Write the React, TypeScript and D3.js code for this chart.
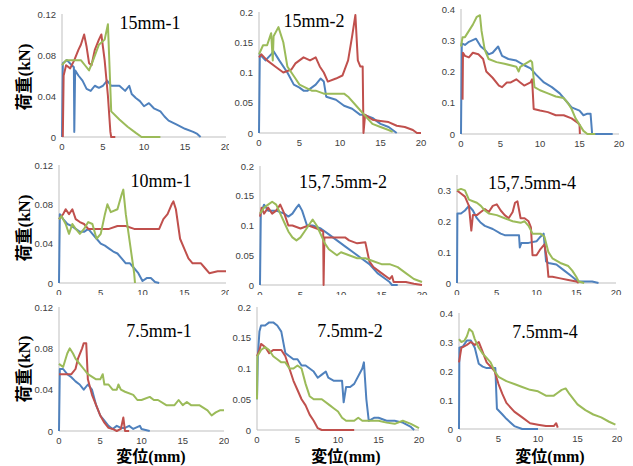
import * as d3 from "d3";

// colours of the three specimens (Excel 2007 palette)
const BLUE = "#4F81BD";
const RED = "#C0504D";
const GREEN = "#9BBB59";

type Pt = [number, number];

// ---- 15mm-1 ----
const p1Blue: Pt[] = [[0,0],[0.1,0.072],[0.6,0.075],[1.2,0.07],[1.45,0.068],[1.5,0.005],[1.6,0.065],[2,0.06],[2.5,0.055],[3,0.047],[3.5,0.045],[4,0.05],[4.5,0.048],[5,0.05],[5.5,0.055],[6,0.05],[7,0.05],[7.7,0.045],[8.2,0.05],[8.5,0.042],[9,0.038],[9.5,0.035],[10,0.03],[10.6,0.033],[11.2,0.028],[12,0.025],[12.5,0.02],[13,0.016],[14,0.012],[15,0.008],[16,0.005],[16.5,0.003],[16.9,0]];
const p1Red: Pt[] = [[0.1,0],[0.2,0.06],[0.5,0.07],[1,0.067],[1.5,0.075],[2,0.085],[2.3,0.09],[2.7,0.1],[3,0.088],[3.3,0.072],[3.6,0.07],[4,0.085],[4.5,0.095],[4.8,0.1],[5.2,0.075],[5.6,0.04],[5.9,0.005],[6,0],[6.5,0]];
const p1Green: Pt[] = [[0,0.07],[0.5,0.075],[1.5,0.075],[2.3,0.075],[2.8,0.07],[3.3,0.065],[3.8,0.075],[4.5,0.09],[5.2,0.095],[5.6,0.11],[6,0.025],[7,0.017],[8,0.01],[9,0.004],[9.7,0],[12,0]];

// ---- 15mm-2 ----
const p2Blue: Pt[] = [[0,0],[0.1,0.13],[0.8,0.12],[1.5,0.13],[1.8,0.135],[2.5,0.12],[3.5,0.1],[4.3,0.08],[5,0.075],[5.5,0.07],[6,0.07],[7,0.08],[7.6,0.09],[8,0.085],[8.3,0.06],[9.5,0.055],[10.5,0.045],[11.5,0.04],[12.5,0.03],[13,0.03],[14,0.025],[15,0.015],[16,0.01],[17,0]];
const p2Red: Pt[] = [[0,0.125],[0.3,0.13],[1,0.12],[2,0.11],[3,0.1],[4,0.105],[4.5,0.115],[5.5,0.125],[6.3,0.12],[7,0.125],[7.5,0.11],[8,0.1],[8.5,0.085],[9.5,0.09],[10.3,0.095],[11,0.12],[11.5,0.16],[11.9,0.195],[12.2,0.12],[12.5,0.11],[12.8,0.11],[12.9,0],[13.1,0.03],[14,0.022],[15,0.02],[16,0.018],[17,0.012],[18,0.01],[19,0.005],[19.5,0],[20,0]];
const p2Green: Pt[] = [[0,0.13],[0.5,0.145],[1,0.145],[1.5,0.165],[1.7,0.12],[1.8,0.16],[2.2,0.17],[2.4,0.175],[3,0.15],[3.5,0.11],[4.5,0.09],[5,0.08],[6.5,0.07],[7,0.07],[8,0.065],[10.5,0.065],[11,0.06],[12,0.045],[13,0.03],[14,0.015],[15,0.01],[16,0.005],[16.5,0.002]];

// ---- (top right, untitled) ----
const p3Blue: Pt[] = [[0,0],[0.1,0.29],[0.5,0.285],[1,0.295],[1.9,0.305],[2.5,0.28],[3,0.27],[3.5,0.255],[4,0.26],[4.7,0.28],[5.2,0.25],[6,0.24],[7,0.235],[8,0.22],[8.8,0.21],[9.5,0.19],[10.5,0.165],[11.5,0.15],[12.5,0.13],[13.5,0.1],[14,0.085],[15,0.075],[15.5,0.06],[16,0.065],[16.4,0.065],[16.6,0],[19.2,0]];
const p3Red: Pt[] = [[0.2,0.11],[0.25,0.26],[0.5,0.25],[1,0.245],[1.5,0.26],[2.2,0.255],[2.8,0.24],[3.2,0.2],[4,0.18],[4.8,0.155],[5.2,0.15],[5.8,0.165],[6.3,0.165],[7,0.175],[7.5,0.165],[8,0.155],[8.8,0.165],[9,0.175],[9.2,0.08],[10,0.075],[11,0.07],[12,0.06],[13,0.06],[14,0.05],[14.8,0.035],[15,0.03],[15.05,0]];
const p3Green: Pt[] = [[0,0.28],[0.2,0.31],[0.5,0.31],[1,0.33],[1.5,0.35],[2,0.375],[2.4,0.38],[2.6,0.33],[3,0.27],[3.5,0.24],[4.5,0.23],[5.5,0.225],[7,0.215],[7.3,0.2],[7.5,0.215],[8.8,0.235],[9,0.23],[9.3,0.15],[10,0.14],[11,0.13],[12,0.12],[13,0.115],[13.5,0.1],[14,0.08],[14.5,0.05],[15,0.03],[15.5,0.01],[16,0],[17,0]];

// ---- 10mm-1 ----
const p4Blue: Pt[] = [[0,0],[0.1,0.07],[0.5,0.065],[1,0.06],[1.5,0.058],[2,0.055],[2.5,0.052],[3,0.052],[3.5,0.055],[4,0.05],[4.5,0.045],[5,0.04],[5.5,0.038],[6,0.035],[6.5,0.032],[7,0.03],[7.5,0.025],[8,0.02],[8.5,0.02],[9,0.015],[9.5,0.01],[10,0.002],[10.5,0.005],[11,0.005],[11.5,0.001],[12,0]];
const p4Red: Pt[] = [[0,0.065],[0.5,0.07],[0.8,0.075],[1.2,0.07],[1.6,0.075],[2,0.065],[2.5,0.062],[3,0.06],[3.5,0.055],[4,0.055],[5,0.055],[6,0.055],[7,0.058],[8,0.058],[9,0.055],[10,0.055],[11,0.055],[12,0.055],[12.5,0.065],[13,0.07],[13.5,0.08],[13.7,0.083],[14,0.075],[14.5,0.045],[15,0.035],[15.5,0.025],[16,0.02],[17,0.02],[17.5,0.015],[18,0.01],[19,0.012],[20,0.012]];
const p4Green: Pt[] = [[0,0.065],[0.3,0.068],[0.8,0.06],[1.2,0.05],[1.6,0.06],[2,0.055],[2.5,0.05],[3,0.055],[3.5,0.062],[4,0.06],[4.5,0.045],[5,0.05],[5.5,0.07],[5.8,0.08],[6.2,0.072],[7,0.075],[7.5,0.09],[7.7,0.095],[8,0.07],[8.5,0.04],[9,0.01],[9.1,0]];

// ---- 15,7.5mm-2 ----
const p5Blue: Pt[] = [[0,0],[0.1,0.12],[0.5,0.135],[1,0.125],[2,0.125],[3,0.12],[3.5,0.115],[4,0.12],[4.5,0.13],[4.8,0.135],[5.2,0.125],[5.8,0.1],[6.5,0.1],[7.5,0.095],[8.5,0.085],[9.5,0.075],[10.5,0.065],[11.5,0.055],[12.5,0.045],[13.5,0.035],[14.5,0.02],[15.5,0.01],[16,0.005],[16.3,0],[17,0]];
const p5Red: Pt[] = [[0,0.115],[0.2,0.13],[0.5,0.12],[1,0.13],[1.5,0.12],[2,0.125],[2.5,0.135],[3,0.12],[3.5,0.1],[4,0.1],[5,0.095],[6,0.1],[7,0.095],[7.8,0.09],[7.85,0],[7.95,0.08],[8.5,0.08],[10.5,0.08],[11,0.075],[12,0.07],[13,0.072],[13.5,0.04],[14,0.03],[15,0.02],[16,0.01],[16.3,0.015],[16.5,0.005],[18,0.005],[19,0.002],[20,0]];
const p5Green: Pt[] = [[0,0.12],[0.5,0.13],[1,0.135],[1.5,0.14],[2,0.135],[2.5,0.12],[3,0.105],[3.5,0.09],[4,0.08],[4.5,0.075],[5,0.08],[5.5,0.09],[6,0.1],[6.5,0.11],[7,0.1],[7.5,0.085],[8,0.07],[8.5,0.06],[9.5,0.05],[10,0.055],[11,0.05],[12,0.045],[13,0.045],[14,0.04],[15,0.035],[16,0.035],[17,0.03],[18,0.02],[19,0.01],[20,0.005]];

// ---- 15,7.5mm-4 ----
const p6Blue: Pt[] = [[0,0],[0.05,0.225],[0.5,0.225],[1,0.235],[1.5,0.25],[2,0.235],[2.5,0.21],[3,0.195],[3.5,0.185],[4.5,0.175],[5.5,0.16],[6,0.155],[7,0.155],[7.8,0.155],[7.9,0.115],[8.1,0.13],[9,0.13],[10,0.135],[10.5,0.15],[10.9,0.16],[11.2,0.07],[11.5,0.065],[12.5,0.06],[13.5,0.04],[14.5,0.02],[15.2,0.005],[16,0.005],[17,0.005],[17.8,0]];
const p6Red: Pt[] = [[0,0.3],[0.5,0.29],[1,0.28],[1.5,0.25],[1.8,0.17],[2,0.22],[2.5,0.22],[3,0.23],[3.5,0.24],[4,0.23],[4.5,0.25],[5,0.255],[5.5,0.235],[6,0.22],[6.5,0.21],[7,0.23],[7.3,0.26],[7.6,0.265],[8,0.21],[8.5,0.21],[9,0.2],[9.3,0.18],[9.5,0.09],[10,0.09],[10.5,0.11],[11,0.125],[11.3,0.08],[11.5,0.02],[12,0.02],[13,0.015],[14,0.01],[15,0.005],[15.3,0]];
const p6Green: Pt[] = [[0,0.3],[0.5,0.305],[1,0.3],[1.5,0.27],[2,0.265],[2.5,0.26],[3,0.25],[3.5,0.235],[4,0.225],[5,0.22],[6,0.21],[7,0.2],[8,0.195],[8.5,0.2],[9,0.185],[9.5,0.16],[10.5,0.16],[11,0.15],[11.5,0.1],[12,0.08],[13,0.065],[14,0.055],[14.5,0.04],[15,0.02],[15.3,0.005],[16,0]];

// ---- 7.5mm-1 ----
const p7Blue: Pt[] = [[0,0],[0.1,0.06],[0.5,0.06],[1,0.055],[1.5,0.052],[2,0.048],[2.5,0.045],[3,0.04],[3.5,0.045],[4,0.04],[4.5,0.025],[5,0.015],[5.5,0.01],[6,0.005],[6.5,0.002],[7,0.005],[7.5,0.003],[8,0.003],[8.5,0.005],[9,0.002],[9.8,0.005],[10,0.002],[11,0]];
const p7Red: Pt[] = [[0,0.055],[0.5,0.055],[1,0.055],[1.5,0.055],[2,0.06],[2.3,0.07],[2.8,0.08],[3,0.085],[3.3,0.085],[3.5,0.05],[4,0.035],[4.5,0.025],[5,0.015],[5.5,0.008],[6,0.003],[6.5,0.002],[7,0],[7.5,0.002],[7.8,0.013],[8,0],[8.5,0]];
const p7Green: Pt[] = [[0,0.065],[0.5,0.062],[1,0.075],[1.3,0.08],[1.7,0.075],[2,0.07],[2.5,0.065],[3,0.06],[3.5,0.055],[4.5,0.05],[5,0.05],[5.3,0.055],[5.5,0.045],[6,0.045],[6.5,0.04],[7,0.04],[7.2,0.045],[7.5,0.04],[8,0.038],[9,0.035],[9.5,0.03],[10,0.03],[11,0.033],[11.5,0.03],[12,0.03],[13,0.025],[14,0.025],[14.5,0.03],[15,0.025],[15.5,0.028],[16,0.025],[17,0.025],[18,0.02],[18.5,0.015],[19,0.018],[19.5,0.02],[20,0.02]];

// ---- 7.5mm-2 ----
const p8Blue: Pt[] = [[0,0.05],[0.1,0.12],[0.3,0.16],[0.5,0.17],[1,0.17],[1.5,0.175],[2,0.175],[2.5,0.17],[3,0.16],[3.5,0.125],[4,0.12],[4.5,0.115],[5,0.115],[5.5,0.105],[6,0.105],[6.5,0.1],[7,0.095],[7.5,0.085],[8,0.09],[8.5,0.095],[8.8,0.085],[9.5,0.08],[10.5,0.08],[10.7,0.045],[11,0.07],[11.5,0.07],[12,0.075],[13,0.1],[13.2,0.11],[13.5,0.05],[13.8,0.015],[14.5,0.02],[15,0.02],[16,0.015],[17,0.015],[18,0.012],[19,0.005],[19.4,0]];
const p8Red: Pt[] = [[0,0.12],[0.3,0.13],[0.5,0.14],[1,0.135],[1.5,0.125],[2,0.13],[3,0.13],[3.5,0.12],[4,0.1],[4.5,0.08],[5,0.065],[5.5,0.05],[6,0.04],[6.5,0.025],[7,0.015],[7.5,0.003],[8,0],[10,0],[12,0]];
const p8Green: Pt[] = [[0,0.05],[0.05,0.12],[0.5,0.13],[1,0.135],[1.5,0.13],[2,0.12],[2.5,0.115],[3,0.11],[3.5,0.11],[4,0.1],[4.5,0.1],[5,0.105],[5.5,0.1],[6,0.075],[6.5,0.055],[7,0.05],[7.5,0.05],[8,0.05],[9,0.04],[9.5,0.035],[10,0.03],[10.5,0.02],[11,0.015],[12,0.015],[12.5,0.02],[13,0.015],[14,0.015],[15,0.015],[16,0.012],[17,0.01],[18,0.015],[19,0.01],[20,0.003]];

// ---- 7.5mm-4 ----
const p9Blue: Pt[] = [[0,0],[0.05,0.28],[0.5,0.285],[1,0.305],[1.5,0.305],[2,0.28],[2.5,0.225],[3,0.215],[3.5,0.21],[4,0.21],[4.6,0.21],[4.8,0.07],[5.5,0.05],[6,0.035],[7,0.01],[8,0],[10,0]];
const p9Red: Pt[] = [[0,0.23],[0.3,0.28],[1,0.29],[1.5,0.3],[2,0.29],[2.5,0.3],[2.8,0.28],[3.5,0.23],[4,0.215],[4.5,0.2],[5,0.155],[5.5,0.12],[6,0.09],[7,0.06],[8,0.04],[9,0.02],[10,0.015],[11,0.01],[12,0.01],[12.3,0.02],[12.5,0.005]];
const p9Green: Pt[] = [[0,0.31],[0.3,0.3],[0.7,0.305],[1,0.32],[1.3,0.345],[1.7,0.335],[2,0.31],[2.5,0.28],[3,0.26],[3.5,0.245],[4,0.23],[4.5,0.2],[5,0.18],[6,0.165],[7,0.155],[8,0.145],[9,0.135],[10,0.13],[11,0.115],[12,0.115],[12.5,0.125],[13,0.135],[13.5,0.14],[14,0.12],[15,0.085],[16,0.065],[17,0.05],[18,0.04],[19,0.025],[19.8,0.015]];

// panel titles and axes
const titles = ["15mm-1", "15mm-2", "", "10mm-1", "15,7.5mm-2", "15,7.5mm-4", "7.5mm-1", "7.5mm-2", "7.5mm-4"];
const yMaxes = [0.12, 0.2, 0.4, 0.12, 0.2, 0.35, 0.12, 0.2, 0.4];
const yTickSets = [
  [0, 0.04, 0.08, 0.12], [0, 0.05, 0.1, 0.15, 0.2], [0, 0.1, 0.2, 0.3, 0.4],
  [0, 0.04, 0.08, 0.12], [0, 0.05, 0.1, 0.15, 0.2], [0, 0.1, 0.2, 0.3],
  [0, 0.04, 0.08, 0.12], [0, 0.05, 0.1, 0.15, 0.2], [0, 0.1, 0.2, 0.3, 0.4],
];
const xTicks = [0, 5, 10, 15, 20];
const yLabel = "荷重(kN)";
const xLabel = "変位(mm)";

const panelSeries: Pt[][][] = [
  [p1Blue, p1Red, p1Green], [p2Blue, p2Red, p2Green], [p3Blue, p3Red, p3Green],
  [p4Blue, p4Red, p4Green], [p5Blue, p5Red, p5Green], [p6Blue, p6Red, p6Green],
  [p7Blue, p7Red, p7Green], [p8Blue, p8Red, p8Green], [p9Blue, p9Red, p9Green],
];
const seriesColors = [BLUE, RED, GREEN];

// pixel layout of each small chart: plot left/right (x=0..20), top/bottom (y max..0), title spot
const layout = [
  { l: 62, r: 226, t: 14, b: 137, tx: 150, ty: 29, clip: 0 },
  { l: 259, r: 421, t: 12, b: 133, tx: 314, ty: 27, clip: 229 },
  { l: 461, r: 619, t: 9, b: 134, tx: 0, ty: 0, clip: 430 },
  { l: 59, r: 226, t: 165, b: 283, tx: 161, ty: 187, clip: 0 },
  { l: 260, r: 422, t: 166, b: 285, tx: 343, ty: 188, clip: 229 },
  { l: 457, r: 616, t: 175, b: 283, tx: 532, ty: 189, clip: 430 },
  { l: 59, r: 224, t: 307, b: 431, tx: 159, ty: 337, clip: 0 },
  { l: 257, r: 419, t: 307, b: 430, tx: 350, ty: 337, clip: 229 },
  { l: 459, r: 617, t: 313, b: 429, tx: 545, ty: 338, clip: 430 },
];

const tickFont = "'Liberation Sans', Arial, sans-serif";
const serif = "'Liberation Serif', 'Times New Roman', 'Noto Sans CJK JP', serif";

function Panel({ i }: { i: number }) {
  const L = layout[i];
  const x = d3.scaleLinear().domain([0, 20]).range([L.l, L.r]);
  const y = d3.scaleLinear().domain([0, yMaxes[i]]).range([L.b, L.t]);
  const line = d3
    .line<Pt>()
    .x((d) => x(d[0]))
    .y((d) => y(d[1]));
  const bgX = L.clip > 0 ? L.clip : 0;
  return (
    <g>
      <rect x={bgX} y={L.t - 12} width={633 - bgX} height={L.b - L.t + 30} fill="#fff" />
      <line x1={L.l} x2={L.l} y1={L.t} y2={L.b} stroke="#BFBFBF" strokeWidth={1} />
      <line x1={L.l} x2={L.r} y1={L.b} y2={L.b} stroke="#BFBFBF" strokeWidth={1} />
      {yTickSets[i].map((v) => (
        <text key={"y" + v} x={L.l - 6} y={y(v) + 3.5} textAnchor="end" fontSize={9.5}
          fontFamily={tickFont} fill="#404040">{String(v)}</text>
      ))}
      {xTicks.map((v) => (
        <text key={"x" + v} x={x(v)} y={L.b + 13} textAnchor="middle" fontSize={9.5}
          fontFamily={tickFont} fill="#404040">{String(v)}</text>
      ))}
      {panelSeries[i].map((s, k) => (
        <path key={k} d={line(s) ?? ""} fill="none" stroke={seriesColors[k]}
          strokeWidth={2} strokeLinejoin="round" />
      ))}
      {titles[i] && (
        <text x={L.tx} y={L.ty} textAnchor="middle" fontSize={18} fontFamily={serif} fill="#000">
          {titles[i]}
        </text>
      )}
    </g>
  );
}

export default function App() {
  const rowCenters = [77, 228, 369];
  const colCenters = [151, 346, 550];
  return (
    <svg width={633} height={466} style={{ position: "absolute", left: 0, top: 0, background: "#fff" }}>
      <rect width={633} height={466} fill="#fff" />
      {layout.map((_, i) => (
        <Panel key={i} i={i} />
      ))}
      {rowCenters.map((cy, k) => (
        <text key={"yl" + k} transform={`translate(30,${cy}) rotate(-90)`} textAnchor="middle"
          fontSize={17} fontWeight="bold" fontFamily={serif} fill="#000">{yLabel}</text>
      ))}
      {colCenters.map((cx, k) => (
        <text key={"xl" + k} x={cx} y={462} textAnchor="middle" fontSize={16} fontWeight="bold"
          fontFamily={serif} fill="#000">{xLabel}</text>
      ))}
    </svg>
  );
}
